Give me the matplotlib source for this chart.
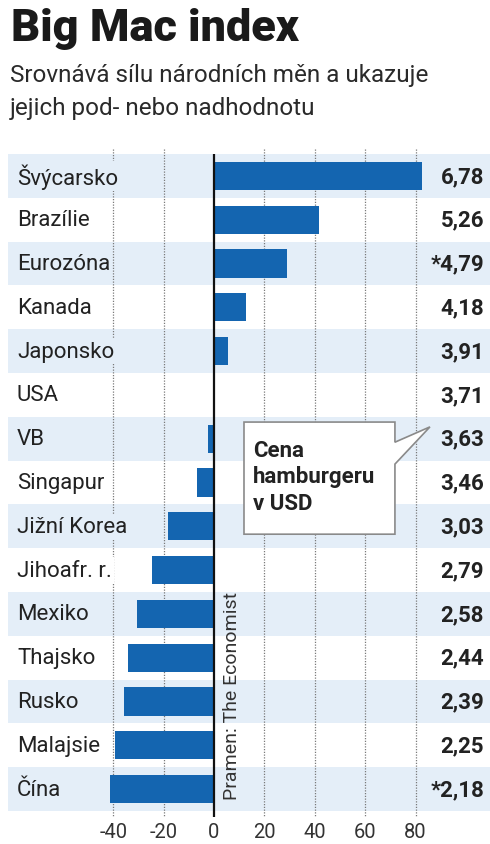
#!/usr/bin/python3

import matplotlib
matplotlib.use("Agg")
import matplotlib.pyplot as plt
from matplotlib.patches import Polygon
import numpy as np

# Big Mac index (The Economist) - percent over/under valuation vs USD
countries = ["Švýcarsko", "Brazílie", "Eurozóna", "Kanada", "Japonsko", "USA",
             "VB", "Singapur", "Jižní Korea", "Jihoafr. r.", "Mexiko",
             "Thajsko", "Rusko", "Malajsie", "Čína"]
valuation = [82.7, 41.8, 29.1, 12.7, 5.4, 0.0, -2.2, -6.7, -18.3, -24.8,
             -30.5, -34.2, -35.6, -39.4, -41.2]
prices = ["6,78", "5,26", "*4,79", "4,18", "3,91", "3,71", "3,63", "3,46",
          "3,03", "2,79", "2,58", "2,44", "2,39", "2,25", "*2,18"]
xticks = [-40, -20, 0, 20, 40, 60, 80]

FONT = ["Roboto", "DejaVu Sans"]
plt.rcParams["font.family"] = FONT

BAR = "#1465b0"
BAND = "#e4eef8"
TXT = "#222222"

W, H = 490, 845
fig = plt.figure(figsize=(W / 100, H / 100), dpi=100)

# axes covers the row bands (pixels 155..812 from top, 8..490 from left)
ax = fig.add_axes([8 / W, (H - 812) / H, 482 / W, (812 - 155) / H])
px = 2.52  # pixels per percent
ax.set_xlim(-(214 - 8) / px, (490 - 214) / px)
ax.set_ylim(len(countries) - 0.5, -0.5)
for s in ax.spines.values():
    s.set_visible(False)
ax.set_yticks([])

y = np.arange(len(countries))
for i in y:
    if i % 2 == 0:
        ax.axhspan(i - 0.5, i + 0.5, color=BAND, zorder=0, lw=0)

grid = [t for t in xticks if t != 0]
ax.vlines(grid, -0.62, len(countries) - 0.38, colors="#7a7a7a",
          linestyles=(0, (1, 1.2)), lw=0.9, zorder=1, clip_on=False)

ax.barh(y, valuation, height=0.64, color=BAR, zorder=2)
ax.plot([0, 0], [-0.5, len(countries) - 0.36], color="#111111", lw=1.6,
        zorder=3, clip_on=False, solid_capstyle="butt")

lx = (17 - 8) / 482
vx = (484 - 8) / 482
for i, name in enumerate(countries):
    fc = BAND if i % 2 == 0 else "white"
    ax.text(lx, i, name, transform=ax.get_yaxis_transform(), ha="left",
            va="center", fontsize=16, color=TXT, zorder=4,
            bbox=dict(boxstyle="square,pad=0.1", fc=fc, ec="none"))
    ax.text(vx, i, prices[i], transform=ax.get_yaxis_transform(), ha="right",
            va="center", fontsize=16, fontweight="bold", color=TXT, zorder=4)

ax.set_xticks(xticks)
ax.set_xticklabels([str(t) for t in xticks], fontsize=14.5, color="#333333")
ax.tick_params(axis="x", length=0, pad=8)

# callout "Cena hamburgeru v USD"
bx0, bx1 = 11.9, 71.8
by0, by1 = 5.62, 8.18
callout = Polygon([(bx0, by0), (bx1, by0), (bx1, 6.08), (85.7, 5.73),
                   (bx1, 6.58), (bx1, by1), (bx0, by1)], closed=True,
                  fc="white", ec="#8a8a8a", lw=1.2, zorder=5, clip_on=False)
ax.add_patch(callout)
ax.text(15.5, 6.86, "Cena\nhamburgeru\nv USD", ha="left", va="center",
        fontsize=16, fontweight="bold", color=TXT, linespacing=1.25, zorder=6)

ax.text(7.1, 14.23, "Pramen: The Economist", rotation=90, ha="center",
        va="bottom", fontsize=14, color="#333333", zorder=4)

fig.text(11 / W, 1 - 8 / H, "Big Mac index", ha="left", va="top",
         fontsize=32.5, fontweight=900, color="#1a1a1a")
fig.text(10 / W, 1 - 64 / H,
         "Srovnává sílu národních měn a ukazuje\njejich pod- nebo nadhodnotu",
         ha="left", va="top", fontsize=17.5, color="#2a2a2a", linespacing=1.55)

fig.savefig("out.png", dpi=100)
plt.close()
